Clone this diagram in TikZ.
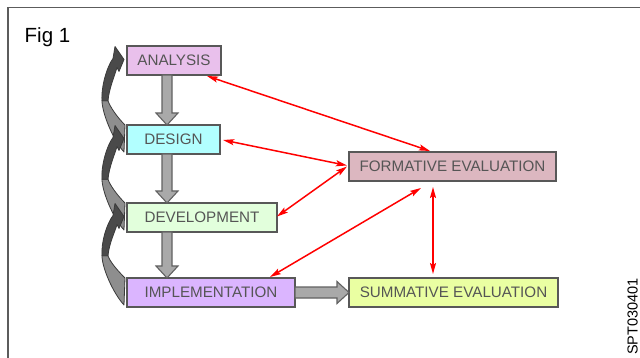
\documentclass[tikz,border=0pt]{standalone}
\usepackage{fontspec}
\setmainfont{Liberation Sans}
\usetikzlibrary{arrows.meta,calc}

\definecolor{framegray}{HTML}{5C5C5C}
\definecolor{boxline}{HTML}{585858}
\definecolor{labelgray}{HTML}{555555}
\definecolor{anafill}{HTML}{E9C0EC}
\definecolor{desfill}{HTML}{B2FFFF}
\definecolor{devfill}{HTML}{E2FFDC}
\definecolor{impfill}{HTML}{DBB5FF}
\definecolor{formfill}{HTML}{DCB7C0}
\definecolor{summfill}{HTML}{EAFFA2}
\definecolor{blockfill}{HTML}{A9A9A9}
\definecolor{blockline}{HTML}{626262}
\definecolor{ribbonline}{HTML}{3A3A3A}
\definecolor{ribbonlight}{HTML}{8E8E8E}
\definecolor{ribbondark}{HTML}{4A4A4A}
\definecolor{linkred}{HTML}{FF0000}

% gray block arrow pointing down, from #1 to #2
\newcommand\blockdown[2]{%
  \filldraw[blockarrow] ($(#1)+(-5,0)$) -- ($(#2)+(-5,-12)$) -- ($(#2)+(-11,-12)$)
    -- (#2) -- ($(#2)+(11,-12)$) -- ($(#2)+(5,-12)$) -- ($(#1)+(5,0)$) -- cycle;}
% gray block arrow pointing right, from #1 to #2
\newcommand\blockright[2]{%
  \filldraw[blockarrow] ($(#1)+(0,-5.5)$) -- ($(#2)+(-12,-5.5)$) -- ($(#2)+(-12,-11)$)
    -- (#2) -- ($(#2)+(-12,11)$) -- ($(#2)+(-12,5.5)$) -- ($(#1)+(0,5.5)$) -- cycle;}
% twisted feedback ribbon from the left side of node #2 back up to node #1
\newcommand\feedback[2]{%
  \coordinate (t) at (#1.west);
  \coordinate (b1) at (#2.north west);
  \coordinate (b2) at (#2.south west);
  \coordinate (m) at ($(t)!0.5!(b1)$);
  % lower, lighter half: wide base at the box, narrowing to the twist
  \filldraw[ribbon, fill=ribbonlight] ($(b1)+(-2,0)$)
    .. controls ($(b1)+(-10,-8)$) and ($(m)+(-17,14)$) .. ($(m)+(-19,8)$)
    -- ($(m)+(-25,8)$)
    .. controls ($(m)+(-25,20)$) and ($(b2)+(-14,-14)$) .. ($(b2)+(-3,-2)$) -- cycle;
  % upper, darker half: narrow shaft ending in the head
  \filldraw[ribbon, fill=ribbondark] ($(m)+(-19,8)$)
    .. controls ($(m)+(-18,-4)$) and ($(t)+(-12,14)$) .. ($(t)+(-10,7)$)
    -- ($(t)+(-8,11)$) -- ($(t)+(-3,-1)$) -- ($(t)+(-12,-14)$) -- ($(t)+(-14,-2)$)
    .. controls ($(t)+(-20,6)$) and ($(m)+(-26,-6)$) .. ($(m)+(-25,8)$) -- cycle;}

\begin{document}
\begin{tikzpicture}[x=1pt,y=-1pt,
  stage/.style={draw=boxline, line width=1.3pt, minimum height=29pt, inner sep=0pt,
    outer sep=0pt, text=labelgray, font=\fontsize{15.2}{17}\selectfont},
  blockarrow/.style={fill=blockfill, draw=blockline, line width=1.1pt},
  ribbon/.style={draw=ribbonline, line width=0.8pt, line join=round},
  link/.style={draw=linkred, line width=1.5pt,
    {Stealth[length=11pt,width=6pt,inset=2pt]}-{Stealth[length=11pt,width=6pt,inset=2pt]}}]

\useasboundingbox (0,0) rectangle (640,358);
\fill[white] (0,0) rectangle (640,358);

% frame
\draw[framegray, line width=1.6pt] (8,358) -- (8,7.7) -- (640,7.7);

% captions
\node[anchor=base west, inner sep=0pt, font=\fontsize{20.5}{22}\selectfont] (fig) at (24.5,42.5) {Fig 1};
\node[anchor=base west, inner sep=0pt, rotate=90, font=\fontsize{14.5}{16}\selectfont] (code) at (637.5,355) {SPT030401};

% stages
\node[stage, fill=anafill,  minimum width=94pt]  (ana)  at (174,60.5)   {ANALYSIS};
\node[stage, fill=desfill,  minimum width=93pt]  (des)  at (173.5,139.5) {DESIGN};
\node[stage, fill=devfill,  minimum width=150pt] (dev)  at (202,217.5)  {DEVELOPMENT};
\node[stage, fill=impfill,  minimum width=168pt] (imp)  at (211,292.5)  {IMPLEMENTATION};
\node[stage, fill=formfill, minimum width=207pt] (form) at (452.5,166.5) {FORMATIVE EVALUATION};
\node[stage, fill=summfill, minimum width=209pt] (summ) at (453.5,292.5) {SUMMATIVE EVALUATION};

% forward flow
\coordinate (a1) at ($(ana.south west)+(40,0)$);
\coordinate (a2) at ($(des.north west)+(40,0)$);
\coordinate (a3) at ($(des.south west)+(40,0)$);
\coordinate (a4) at ($(dev.north west)+(40,0)$);
\coordinate (a5) at ($(dev.south west)+(40,0)$);
\coordinate (a6) at ($(imp.north west)+(40,0)$);
\blockdown{a1}{a2}
\blockdown{a3}{a4}
\blockdown{a5}{a6}
\blockright{imp.east}{summ.west}

% feedback loops
\feedback{ana}{des}
\feedback{des}{dev}
\feedback{dev}{imp}

% evaluation links
\draw[link] ($(ana.south east)+(-14,1)$) -- ($(form.north west)+(81,-1)$);
\draw[link] ($(des.east)+(3,0.5)$) -- ($(form.west)+(-2,-1)$);
\draw[link] ($(dev.east)+(0,-1)$) -- ($(form.west)+(-2,0)$);
\draw[link] ($(imp.north east)+(-25,-1)$) -- ($(form.south west)+(72,7)$);
\draw[link] ($(form.south west)+(84,6)$) -- ($(summ.north west)+(84,-4)$);

\end{tikzpicture}
\end{document}
